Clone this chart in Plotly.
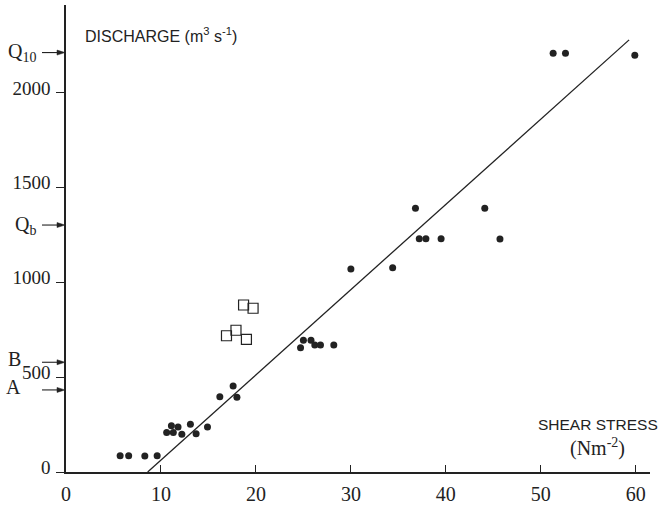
import plotly.graph_objects as go

# Filled dots: shear stress (N m^-2) vs discharge (m^3 s^-1)
dots_x = [5.7, 6.6, 8.3, 9.6, 10.6, 11.1, 11.3, 11.8, 12.2, 13.1, 13.7, 14.9,
          16.2, 17.6, 18.0, 24.7, 25.0, 25.8, 26.2, 26.8, 28.2, 30.0, 34.4,
          36.8, 37.2, 37.9, 39.5, 44.1, 45.7, 51.3, 52.6, 59.9]
dots_y = [86, 86, 84, 86, 209, 244, 209, 237, 199, 252, 202, 237,
          397, 454, 394, 656, 695, 695, 670, 670, 670, 1071, 1078,
          1391, 1231, 1231, 1231, 1391, 1230, 2209, 2209, 2199]

# Open squares
sq_x = [16.9, 17.9, 19.0, 18.7, 19.7]
sq_y = [719, 748, 700, 881, 864]

# Fitted line end points
fit_x = [8.6, 59.3]
fit_y = [0, 2280]

# Reference discharge levels marked with arrows
ref_labels = ["Q<sub>10</sub>", "Q<sub>b</sub>", "B", "A"]
ref_values = [2213, 1303, 579, 433]

x_ticks = [0, 10, 20, 30, 40, 50, 60]
y_ticks = [0, 500, 1000, 1500, 2000]

ink = "#222222"
serif = "Liberation Serif"
sans = "Liberation Sans"

fig = go.Figure()
fig.add_trace(go.Scatter(x=fit_x, y=fit_y, mode="lines",
                         line=dict(color=ink, width=1.3), showlegend=False))
fig.add_trace(go.Scatter(x=dots_x, y=dots_y, mode="markers",
                         marker=dict(color=ink, size=7), showlegend=False))
fig.add_trace(go.Scatter(x=sq_x, y=sq_y, mode="markers",
                         marker=dict(symbol="square-open", color=ink, size=10,
                                     line=dict(width=1.2, color=ink)),
                         showlegend=False))

fig.update_xaxes(range=[0, 61.5], tickvals=x_ticks, ticks="inside", ticklen=7,
                 tickcolor=ink, tickwidth=1.2, showline=True, linewidth=1.6,
                 linecolor=ink, showgrid=False, zeroline=False,
                 automargin=False, ticklabelstandoff=3,
                 tickfont=dict(family=serif, size=20, color=ink))
fig.update_yaxes(range=[0, 2464], tickvals=y_ticks, ticks="outside", ticklen=8,
                 tickcolor=ink, tickwidth=1.2, showline=True, linewidth=1.6,
                 linecolor=ink, showgrid=False, zeroline=False,
                 automargin=False, ticklabelstandoff=2, ticklabelshift=-5,
                 tickfont=dict(family=serif, size=19, color=ink))

shapes = []
annotations = []
for lab, val in zip(ref_labels, ref_values):
    shapes.append(dict(type="line", xref="paper", xsizemode="pixel", xanchor=0,
                       x0=-24, x1=-4, yref="y", y0=val, y1=val,
                       line=dict(color=ink, width=1.1)))
    shapes.append(dict(type="path", xref="paper", xsizemode="pixel", xanchor=0,
                       yref="y", ysizemode="pixel", yanchor=val,
                       path="M -9 -2.5 L -1 0 L -9 2.5 Z",
                       fillcolor=ink, line=dict(color=ink, width=0.5)))
    is_q = lab.startswith("Q")
    annotations.append(dict(xref="paper", yref="y", x=0, y=val, text=lab,
                            showarrow=False, xanchor="right", yanchor="middle",
                            xshift=-28 if is_q else -43,
                            yshift=0 if is_q else 3,
                            font=dict(family=serif, size=20, color=ink)))

annotations.append(dict(xref="paper", yref="paper", x=0, y=1, xshift=17,
                        yshift=-30, xanchor="left", yanchor="middle",
                        text="DISCHARGE (m<sup>3</sup> s<sup>-1</sup>)",
                        showarrow=False,
                        font=dict(family=sans, size=16, color=ink)))
annotations.append(dict(xref="paper", yref="paper", x=1, y=0, xshift=10,
                        yshift=48, xanchor="right", yanchor="middle",
                        text="SHEAR STRESS", showarrow=False,
                        font=dict(family=sans, size=15.5, color=ink)))
annotations.append(dict(xref="paper", yref="paper", x=1, y=0, xshift=-23,
                        yshift=25, xanchor="right", yanchor="middle",
                        text="(Nm<sup>-2</sup>)", showarrow=False,
                        font=dict(family=serif, size=20, color=ink)))

fig.update_layout(width=660, height=507,
                  margin=dict(l=66, r=10, t=5, b=35, autoexpand=False),
                  plot_bgcolor="white", paper_bgcolor="white",
                  shapes=shapes, annotations=annotations)

fig.write_html("out.html", config={"displayModeBar": False},
               post_script="document.body.style.margin='0';"
                           "document.body.style.overflow='hidden';")
